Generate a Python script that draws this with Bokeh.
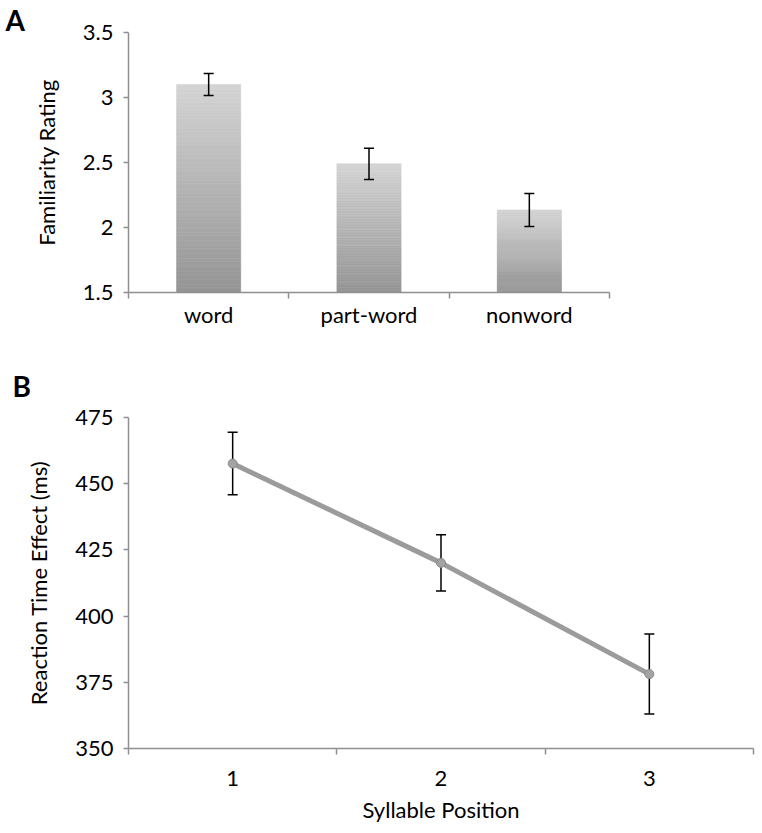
import numpy as np
from bokeh.plotting import figure
from bokeh.models import (ColumnDataSource, Whisker, TeeHead, FixedTicker,
                          Range1d, NumeralTickFormatter)
from bokeh.embed import file_html
from bokeh.resources import INLINE

# ---------------- data ----------------
categories = ["word", "part-word", "nonword"]
familiarity = [3.10, 2.49, 2.135]
familiarity_err = [0.085, 0.12, 0.127]
yticks_a = [1.5, 2, 2.5, 3, 3.5]

positions = [1, 2, 3]
rt_effect = [457.6, 420.1, 378.1]
rt_err = [11.8, 10.6, 15.1]
yticks_b = [350, 375, 400, 425, 450, 475]

FONT = "Lato"
AXIS_GREY = "#8f8f8f"
W = 758
FS = "22px"


def style_axes(p):
    p.xgrid.grid_line_color = None
    p.ygrid.grid_line_color = None
    p.outline_line_color = None
    for ax in (p.xaxis[0], p.yaxis[0]):
        ax.axis_line_color = AXIS_GREY
        ax.axis_line_width = 1.5
        ax.major_tick_line_color = AXIS_GREY
        ax.major_tick_line_width = 1.5
        ax.minor_tick_line_color = AXIS_GREY
        ax.minor_tick_line_width = 1.5
        ax.major_label_text_font = FONT
        ax.major_label_text_font_size = FS
        ax.major_label_text_color = "black"
        ax.axis_label_text_font = FONT
        ax.axis_label_text_font_size = FS
        ax.axis_label_text_font_style = "normal"
        ax.axis_label_text_color = "black"
    ya = p.yaxis[0]
    ya.major_tick_in = 0
    ya.major_tick_out = 5
    ya.minor_tick_line_color = None
    xa = p.xaxis[0]
    xa.major_tick_in = 0
    xa.major_tick_out = 0
    xa.minor_tick_in = 0
    xa.minor_tick_out = 6


def panel_title(p, letter, offset, standoff, valign):
    p.title.text = letter
    p.title.align = "left"
    p.title.offset = offset
    p.title.standoff = standoff
    p.title.vertical_align = valign
    p.title.text_font = FONT
    p.title.text_font_size = "28px"
    p.title.text_font_style = "bold"
    p.title.text_color = "black"


# ---------------- panel A ----------------
n = len(categories)
xa_pos = np.arange(n)
pa = figure(width=W, height=352, output_backend="svg", toolbar_location=None,
            x_range=Range1d(-0.5, n - 0.5), y_range=Range1d(yticks_a[0], yticks_a[-1]),
            min_border_left=128, min_border_right=149, min_border_top=32,
            min_border_bottom=60)

# gradient bars: each bar drawn as thin stacked slices, light at top, dark at bottom
N = 80
top_rgb = np.array([212, 212, 212])
bot_rgb = np.array([148, 148, 148])
xs, bots, tops, cols = [], [], [], []
base = yticks_a[0]
for i, v in enumerate(familiarity):
    for k in range(N):
        f0 = k / N
        f1 = (k + 1) / N
        xs.append(xa_pos[i])
        bots.append(base + (v - base) * f0)
        tops.append(base + (v - base) * f1)
        c = bot_rgb + (top_rgb - bot_rgb) * (k + 0.5) / N
        cols.append("#%02x%02x%02x" % tuple(int(round(t)) for t in c))
pa.vbar(x=xs, bottom=bots, top=tops, width=0.4, fill_color=cols, line_color=cols,
        line_width=0.6)

src_a = ColumnDataSource(dict(
    x=xa_pos,
    upper=[v + e for v, e in zip(familiarity, familiarity_err)],
    lower=[v - e for v, e in zip(familiarity, familiarity_err)]))
pa.add_layout(Whisker(source=src_a, base="x", upper="upper", lower="lower",
                      level="overlay", line_color="black", line_width=1.5,
                      upper_head=TeeHead(size=10, line_color="black", line_width=1.5),
                      lower_head=TeeHead(size=10, line_color="black", line_width=1.5)))

style_axes(pa)
pa.xaxis.ticker = FixedTicker(ticks=list(xa_pos),
                              minor_ticks=list(np.arange(n + 1) - 0.5))
pa.xaxis.major_label_overrides = {int(i): c for i, c in zip(xa_pos, categories)}
pa.xaxis.major_label_standoff = 2
pa.yaxis.ticker = FixedTicker(ticks=yticks_a)
pa.yaxis.formatter = NumeralTickFormatter(format="0.[0]")
pa.yaxis.major_label_standoff = 10
pa.yaxis.axis_label = "Familiarity Rating"
pa.yaxis.axis_label_standoff = 20
panel_title(pa, "A", -123, -8, "bottom")

# ---------------- panel B ----------------
pb = figure(width=W, height=478, output_backend="svg", toolbar_location=None,
            x_range=Range1d(positions[0] - 0.5, positions[-1] + 0.5),
            y_range=Range1d(yticks_b[0], yticks_b[-1]),
            min_border_left=128, min_border_right=5, min_border_top=65,
            min_border_bottom=82)

src_b = ColumnDataSource(dict(
    x=positions, y=rt_effect,
    upper=[v + e for v, e in zip(rt_effect, rt_err)],
    lower=[v - e for v, e in zip(rt_effect, rt_err)]))
pb.add_layout(Whisker(source=src_b, base="x", upper="upper", lower="lower",
                      line_color="black", line_width=1.5,
                      upper_head=TeeHead(size=10, line_color="black", line_width=1.5),
                      lower_head=TeeHead(size=10, line_color="black", line_width=1.5)))
pb.line(x="x", y="y", source=src_b, line_color="#9b9b9b", line_width=5)
pb.scatter(x="x", y="y", source=src_b, size=9, fill_color="#a3a3a3",
           line_color="#8a8a8a", line_width=1)

style_axes(pb)
pb.xaxis.ticker = FixedTicker(ticks=positions,
                              minor_ticks=[p - 0.5 for p in positions] + [positions[-1] + 0.5])
pb.xaxis.major_label_standoff = 16
pb.xaxis.axis_label = "Syllable Position"
pb.xaxis.axis_label_standoff = 7
pb.yaxis.ticker = FixedTicker(ticks=yticks_b)
pb.yaxis.major_label_standoff = 10
pb.yaxis.axis_label = "Reaction Time Effect (ms)"
pb.yaxis.axis_label_standoff = 20
panel_title(pb, "B", -116, 26, "top")

open("out.html", "w").write(file_html([pa, pb], INLINE))
